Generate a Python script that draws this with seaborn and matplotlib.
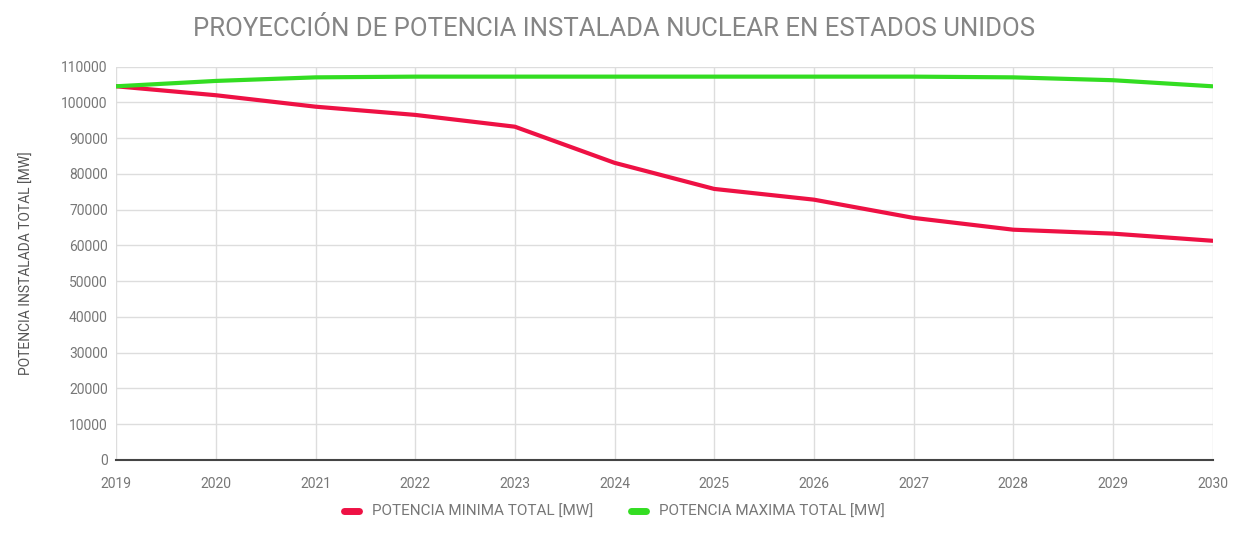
import matplotlib
matplotlib.use("Agg")
import matplotlib.pyplot as plt
import seaborn as sns
import pandas as pd
from matplotlib.lines import Line2D

years = [2019, 2020, 2021, 2022, 2023, 2024, 2025, 2026, 2027, 2028, 2029, 2030]
potencia_minima = [104500, 102000, 98800, 96500, 93200, 83100, 75800, 72800, 67700, 64400, 63300, 61300]
potencia_maxima = [104500, 106000, 107000, 107200, 107200, 107200, 107200, 107200, 107200, 107000, 106200, 104500]
series_names = ["POTENCIA MINIMA TOTAL [MW]", "POTENCIA MAXIMA TOTAL [MW]"]
colors = ["#ee1144", "#33dd22"]

df = pd.DataFrame({
    "year": years * 2,
    "value": potencia_minima + potencia_maxima,
    "serie": [series_names[0]] * len(years) + [series_names[1]] * len(years),
})

sns.set_theme(style="white")
plt.rcParams['font.family'] = ['Roboto', 'DejaVu Sans']

fig, ax = plt.subplots(figsize=(12.36, 5.33), dpi=100)
fig.subplots_adjust(left=0.094, right=0.981, top=0.875, bottom=0.137)

sns.lineplot(data=df, x="year", y="value", hue="serie", palette=colors,
             linewidth=3, ax=ax, legend=False)

ax.set_xlim(2019, 2030)
ax.set_ylim(0, 110000)
ax.set_xticks(years)
ax.set_yticks(range(0, 110001, 10000))
ax.tick_params(axis="both", labelsize=10, colors="#777777", length=0)
ax.tick_params(axis="x", pad=12)
ax.tick_params(axis="y", pad=6)
ax.grid(True, color="#dddddd", linewidth=1)
for s in ["left", "right", "top"]:
    ax.spines[s].set_visible(False)
ax.spines["bottom"].set_color("#444444")
ax.spines["bottom"].set_linewidth(1.5)
ax.set_xlabel("")
ax.set_ylabel("POTENCIA INSTALADA TOTAL [MW]", fontsize=10, color="#555555", labelpad=20)
ax.set_title("PROYECCIÓN DE POTENCIA INSTALADA NUCLEAR EN ESTADOS UNIDOS",
             fontsize=18.5, color="#858585", pad=22, x=0.454)

handles = [Line2D([0], [0], color=c, linewidth=5, solid_capstyle="round") for c in colors]
fig.legend(handles, series_names, loc="lower center", ncol=2, frameon=False,
           fontsize=11, labelcolor="#777777", handlelength=1.0,
           bbox_to_anchor=(0.497, 0.0), columnspacing=2.5)

fig.savefig("out.png", dpi=100)
